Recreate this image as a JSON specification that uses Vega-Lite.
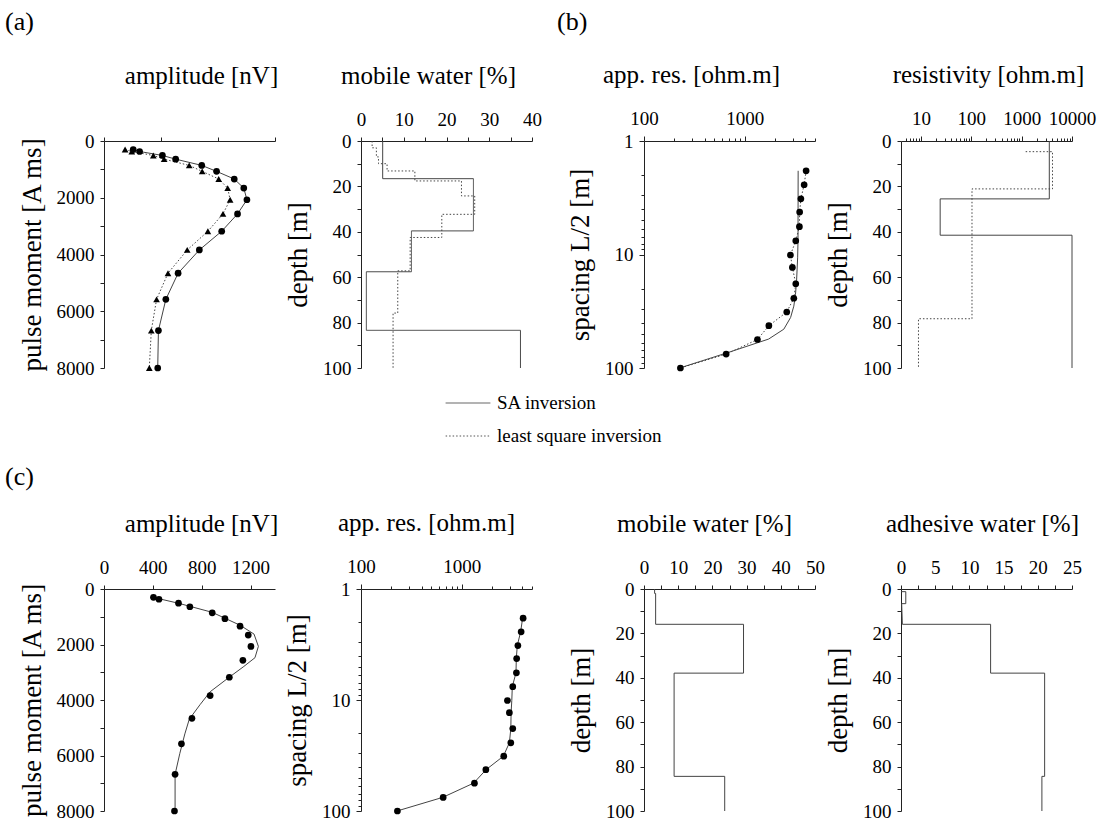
{
  "$schema": "https://vega.github.io/schema/vega-lite/v6.json",
  "background": "white",
  "padding": {"left": 5, "top": 9, "right": 5, "bottom": 5},
  "columns": 8,
  "spacing": {"row": 221, "column": 0},
  "bounds": "flush",
  "config": {
    "view": {"stroke": null},
    "font": "Liberation Serif",
    "axis": {"grid": false, "domainColor": "#222", "tickColor": "#222", "labelFont": "Liberation Serif", "labelFontSize": 19, "labelColor": "#000", "titleFont": "Liberation Serif", "titleFontSize": 27, "titleFontWeight": "normal", "titleColor": "#000", "tickSize": 4, "labelOverlap": false, "labelFlush": false},
    "axisX": {"labelPadding": 8},
    "axisY": {"labelPadding": 6, "titlePadding": 10},
    "title": {"font": "Liberation Serif", "fontSize": 25, "fontWeight": "normal", "color": "#000"}
  },
  "datasets": {
    "amp": [
      {"pm": 300, "obs": 405, "ls": 348}, {"pm": 370, "obs": 450, "ls": 395}, {"pm": 510, "obs": 610, "ls": 546}, {"pm": 640, "obs": 703, "ls": 622},
      {"pm": 860, "obs": 886, "ls": 798}, {"pm": 1070, "obs": 990, "ls": 889}, {"pm": 1340, "obs": 1114, "ls": 1005}, {"pm": 1660, "obs": 1181, "ls": 1068},
      {"pm": 2070, "obs": 1203, "ls": 1085}, {"pm": 2570, "obs": 1137, "ls": 1035}, {"pm": 3180, "obs": 1026, "ls": 929}, {"pm": 3840, "obs": 869, "ls": 784},
      {"pm": 4660, "obs": 720, "ls": 649}, {"pm": 5580, "obs": 634, "ls": 569}, {"pm": 6680, "obs": 582, "ls": 532}, {"pm": 8000, "obs": 577, "ls": 518}
    ],
    "ampfit": [
      {"pm": 300, "amp": 400}, {"pm": 514, "amp": 610}, {"pm": 841, "amp": 886}, {"pm": 1308, "amp": 1115}, {"pm": 1623, "amp": 1228}, {"pm": 2067, "amp": 1264},
      {"pm": 2476, "amp": 1236}, {"pm": 2791, "amp": 1145}, {"pm": 3177, "amp": 1026}, {"pm": 3703, "amp": 869}, {"pm": 4169, "amp": 786}, {"pm": 4695, "amp": 698},
      {"pm": 5221, "amp": 662}, {"pm": 5921, "amp": 621}, {"pm": 6680, "amp": 582}, {"pm": 8000, "amp": 582}
    ],
    "res": [
      {"L": 1.83, "rho": 4080}, {"L": 2.43, "rho": 3900}, {"L": 3.23, "rho": 3620}, {"L": 4.23, "rho": 3520}, {"L": 5.69, "rho": 3500},
      {"L": 7.58, "rho": 3220}, {"L": 10.1, "rho": 2850}, {"L": 13.0, "rho": 2980}, {"L": 18.1, "rho": 3220}, {"L": 24.3, "rho": 3080},
      {"L": 32.1, "rho": 2620}, {"L": 42.4, "rho": 1740}, {"L": 56.1, "rho": 1340}, {"L": 75.4, "rho": 655}, {"L": 100, "rho": 230}
    ],
    "resfit_b": [
      {"L": 1.83, "rho": 3400}, {"L": 7.6, "rho": 3390}, {"L": 10.7, "rho": 3360}, {"L": 17.1, "rho": 3280}, {"L": 22.4, "rho": 3200},
      {"L": 28.5, "rho": 3080}, {"L": 35.9, "rho": 2860}, {"L": 45.5, "rho": 2450}, {"L": 55.6, "rho": 1730}, {"L": 72.9, "rho": 690}, {"L": 100, "rho": 226}
    ],
    "resfit_c": [
      {"L": 1.83, "rho": 4036}, {"L": 2.43, "rho": 3855}, {"L": 3.23, "rho": 3572}, {"L": 4.23, "rho": 3491}, {"L": 5.69, "rho": 3467},
      {"L": 7.58, "rho": 3186}, {"L": 10.1, "rho": 3150}, {"L": 13.0, "rho": 3100}, {"L": 18.1, "rho": 3080}, {"L": 24.3, "rho": 2980},
      {"L": 32.1, "rho": 2594}, {"L": 42.4, "rho": 1750}, {"L": 56.1, "rho": 1315}, {"L": 75.4, "rho": 648}, {"L": 100, "rho": 228}
    ],
    "water_a": [
      {"method": "SA inversion", "i": 0, "depth": 0, "water": 5.07}, {"method": "SA inversion", "i": 1, "depth": 16.6, "water": 5.07},
      {"method": "SA inversion", "i": 2, "depth": 16.6, "water": 26.3}, {"method": "SA inversion", "i": 3, "depth": 39.6, "water": 26.3},
      {"method": "SA inversion", "i": 4, "depth": 39.6, "water": 11.8}, {"method": "SA inversion", "i": 5, "depth": 57.6, "water": 11.8},
      {"method": "SA inversion", "i": 6, "depth": 57.6, "water": 1.25}, {"method": "SA inversion", "i": 7, "depth": 83.4, "water": 1.25},
      {"method": "SA inversion", "i": 8, "depth": 83.4, "water": 37.3}, {"method": "SA inversion", "i": 9, "depth": 100, "water": 37.3},
      {"method": "least square inversion", "i": 0, "depth": 0, "water": 2.6}, {"method": "least square inversion", "i": 1, "depth": 3, "water": 2.6},
      {"method": "least square inversion", "i": 2, "depth": 3, "water": 3.6}, {"method": "least square inversion", "i": 3, "depth": 7, "water": 3.6},
      {"method": "least square inversion", "i": 4, "depth": 7, "water": 4.1}, {"method": "least square inversion", "i": 5, "depth": 10, "water": 4.1},
      {"method": "least square inversion", "i": 6, "depth": 10, "water": 6.1}, {"method": "least square inversion", "i": 7, "depth": 13.2, "water": 6.1},
      {"method": "least square inversion", "i": 8, "depth": 13.2, "water": 12.6}, {"method": "least square inversion", "i": 9, "depth": 17.6, "water": 12.6},
      {"method": "least square inversion", "i": 10, "depth": 17.6, "water": 23.5}, {"method": "least square inversion", "i": 11, "depth": 24.2, "water": 23.5},
      {"method": "least square inversion", "i": 12, "depth": 24.2, "water": 26.6}, {"method": "least square inversion", "i": 13, "depth": 32.3, "water": 26.6},
      {"method": "least square inversion", "i": 14, "depth": 32.3, "water": 18.9}, {"method": "least square inversion", "i": 15, "depth": 42.5, "water": 18.9},
      {"method": "least square inversion", "i": 16, "depth": 42.5, "water": 11.5}, {"method": "least square inversion", "i": 17, "depth": 57.2, "water": 11.5},
      {"method": "least square inversion", "i": 18, "depth": 57.2, "water": 8.6}, {"method": "least square inversion", "i": 19, "depth": 75.8, "water": 8.6},
      {"method": "least square inversion", "i": 20, "depth": 75.8, "water": 7.5}, {"method": "least square inversion", "i": 21, "depth": 100, "water": 7.5}
    ],
    "rho_b": [
      {"method": "SA inversion", "i": 0, "depth": 0, "rho": 3540}, {"method": "SA inversion", "i": 1, "depth": 25.5, "rho": 3540},
      {"method": "SA inversion", "i": 2, "depth": 25.5, "rho": 24}, {"method": "SA inversion", "i": 3, "depth": 41.5, "rho": 24},
      {"method": "SA inversion", "i": 4, "depth": 41.5, "rho": 10000}, {"method": "SA inversion", "i": 5, "depth": 100, "rho": 10000},
      {"method": "least square inversion", "i": 0, "depth": 4.7, "rho": 1200}, {"method": "least square inversion", "i": 1, "depth": 4.7, "rho": 4100},
      {"method": "least square inversion", "i": 2, "depth": 21.1, "rho": 4100}, {"method": "least square inversion", "i": 3, "depth": 21.1, "rho": 103},
      {"method": "least square inversion", "i": 4, "depth": 78.3, "rho": 103}, {"method": "least square inversion", "i": 5, "depth": 78.3, "rho": 8.9},
      {"method": "least square inversion", "i": 6, "depth": 100, "rho": 8.9}
    ],
    "water_c": [
      {"i": 0, "depth": 0, "water": 3.1}, {"i": 1, "depth": 2, "water": 3.1}, {"i": 2, "depth": 2, "water": 3.4}, {"i": 3, "depth": 15.9, "water": 3.4},
      {"i": 4, "depth": 15.9, "water": 29.1}, {"i": 5, "depth": 37.9, "water": 29.1}, {"i": 6, "depth": 37.9, "water": 8.8}, {"i": 7, "depth": 84.4, "water": 8.8},
      {"i": 8, "depth": 84.4, "water": 23.6}, {"i": 9, "depth": 100, "water": 23.6}
    ],
    "adh_c": [
      {"i": 0, "depth": 1.2, "water": 0}, {"i": 1, "depth": 1.2, "water": 0.7}, {"i": 2, "depth": 6.6, "water": 0.7}, {"i": 3, "depth": 6.6, "water": 0.1},
      {"i": 4, "depth": 15.9, "water": 0.2}, {"i": 5, "depth": 15.9, "water": 13.1}, {"i": 6, "depth": 37.9, "water": 13.1}, {"i": 7, "depth": 37.9, "water": 21},
      {"i": 8, "depth": 84.4, "water": 21}, {"i": 9, "depth": 84.4, "water": 20.6}, {"i": 10, "depth": 100, "water": 20.6}
    ]
  },
  "concat": [
    {"width": 99, "height": 227, "title": {"text": "(a)", "anchor": "start", "frame": "group", "fontSize": 26, "baseline": "alphabetic", "offset": 85}, "data": {"values": []}, "mark": {"type": "point", "opacity": 0}},
    {
      "width": 171, "height": 227,
      "title": {"text": "amplitude [nV]", "frame": "group", "dx": 12, "offset": 1, "baseline": "alphabetic"},
      "data": {"name": "amp"},
      "encoding": {"y": {"field": "pm", "type": "quantitative", "scale": {"domain": [0, 8000], "reverse": true, "nice": false, "zero": false},
        "axis": {"orient": "left", "title": "pulse moment [A ms]", "format": "d", "values": [0, 1000, 2000, 3000, 4000, 5000, 6000, 7000, 8000], "labelExpr": "datum.value % 2000 == 0 ? datum.label : ''"}}},
      "layer": [
        {"mark": {"type": "line", "color": "#444", "strokeWidth": 1},
         "encoding": {"x": {"field": "obs", "type": "quantitative", "title": null, "scale": {"domain": [200, 1400], "nice": false, "zero": false},
           "axis": {"orient": "top", "format": "d", "values": [200, 400, 600, 800, 1000, 1200, 1400], "labelExpr": "datum.value % 400 == 0 ? datum.label : ''"}},
           "order": {"field": "pm"}}},
        {"mark": {"type": "line", "color": "#444", "strokeWidth": 1, "strokeDash": [1.5, 2]},
         "encoding": {"x": {"field": "ls", "type": "quantitative", "title": null}, "order": {"field": "pm"}}},
        {"mark": {"type": "point", "shape": "circle", "filled": true, "color": "#000", "opacity": 1, "size": 45},
         "encoding": {"x": {"field": "obs", "type": "quantitative", "title": null}}},
        {"mark": {"type": "point", "shape": "triangle-up", "filled": true, "color": "#000", "opacity": 1, "size": 45},
         "encoding": {"x": {"field": "ls", "type": "quantitative", "title": null}}}
      ]
    },
    {"width": 86, "height": 227, "data": {"values": []}, "mark": {"type": "point", "opacity": 0}},
    {
      "width": 171, "height": 227,
      "title": {"text": "mobile water [%]", "frame": "group", "dx": -18, "offset": 1, "baseline": "alphabetic"},
      "data": {"name": "water_a"},
      "mark": {"type": "line", "color": "#444", "strokeWidth": 1},
      "encoding": {
        "x": {"field": "water", "type": "quantitative", "title": null, "scale": {"domain": [0, 40], "nice": false},
          "axis": {"orient": "top", "format": "d", "values": [0, 5, 10, 15, 20, 25, 30, 35, 40], "labelExpr": "datum.value % 10 == 0 ? datum.label : ''"}},
        "y": {"field": "depth", "type": "quantitative", "scale": {"domain": [0, 100], "reverse": true, "nice": false},
          "axis": {"orient": "left", "title": "depth [m]", "format": "d", "values": [0, 10, 20, 30, 40, 50, 60, 70, 80, 90, 100], "labelExpr": "datum.value % 20 == 0 ? datum.label : ''"}},
        "strokeDash": {"field": "method", "type": "nominal",
          "scale": {"domain": ["SA inversion", "least square inversion"], "range": [[1, 0], [1.5, 2]]},
          "legend": {"orient": "none", "legendX": 440, "legendY": 239, "title": null, "padding": 0, "symbolType": "stroke", "symbolSize": 2000, "symbolStrokeWidth": 1, "symbolStrokeColor": "#555", "labelFont": "Liberation Serif", "labelFontSize": 19, "labelColor": "#000", "labelOffset": 6, "labelLimit": 400, "rowPadding": 0}},
        "order": {"field": "i"}
      }
    },
    {"width": 112, "height": 227, "title": {"text": "(b)", "anchor": "start", "frame": "group", "fontSize": 26, "baseline": "alphabetic", "offset": 85, "dx": 25}, "data": {"values": []}, "mark": {"type": "point", "opacity": 0}},
    {
      "width": 171, "height": 227,
      "title": {"text": "app. res. [ohm.m]", "frame": "group", "dx": -38, "offset": 1, "baseline": "alphabetic"},
      "encoding": {
        "y": {"field": "L", "type": "quantitative", "scale": {"type": "log", "domain": [1, 100], "reverse": true, "nice": false},
          "axis": {"orient": "left", "title": "spacing L/2 [m]", "format": "d", "values": [1, 2, 3, 4, 5, 6, 7, 8, 9, 10, 20, 30, 40, 50, 60, 70, 80, 90, 100], "labelExpr": "datum.value == 1 || datum.value == 10 || datum.value == 100 ? datum.label : ''",
            "tickSize": {"condition": {"test": "datum.value == 1 || datum.value == 10 || datum.value == 100", "value": 5}, "value": 3}}},
        "x": {"field": "rho", "type": "quantitative", "title": null, "scale": {"type": "log", "domain": [100, 5000], "nice": false},
          "axis": {"orient": "top", "format": "d", "values": [100, 200, 300, 400, 500, 600, 700, 800, 900, 1000, 2000, 3000, 4000, 5000], "labelExpr": "datum.value == 100 || datum.value == 1000 ? datum.label : ''",
            "tickSize": {"condition": {"test": "datum.value == 100 || datum.value == 1000", "value": 5}, "value": 3}}}
      },
      "layer": [
        {"data": {"name": "resfit_b"}, "mark": {"type": "line", "color": "#444", "strokeWidth": 1}, "encoding": {"order": {"field": "L"}}},
        {"data": {"name": "res"}, "mark": {"type": "line", "color": "#444", "strokeWidth": 1, "strokeDash": [1.5, 2]}, "encoding": {"order": {"field": "L"}}},
        {"data": {"name": "res"}, "mark": {"type": "point", "shape": "circle", "filled": true, "color": "#000", "opacity": 1, "size": 45}}
      ]
    },
    {"width": 86, "height": 227, "data": {"values": []}, "mark": {"type": "point", "opacity": 0}},
    {
      "width": 171, "height": 227,
      "title": {"text": "resistivity [ohm.m]", "frame": "group", "dx": 2, "offset": 1, "baseline": "alphabetic"},
      "data": {"name": "rho_b"},
      "encoding": {
        "x": {"field": "rho", "type": "quantitative", "title": null, "scale": {"type": "log", "domain": [4, 10000], "nice": false},
          "axis": {"orient": "top", "format": "d", "values": [5, 6, 7, 8, 9, 10, 20, 30, 40, 50, 60, 70, 80, 90, 100, 200, 300, 400, 500, 600, 700, 800, 900, 1000, 2000, 3000, 4000, 5000, 6000, 7000, 8000, 9000, 10000],
            "labelExpr": "datum.value == 10 || datum.value == 100 || datum.value == 1000 || datum.value == 10000 ? datum.label : ''",
            "tickSize": {"condition": {"test": "datum.value == 10 || datum.value == 100 || datum.value == 1000 || datum.value == 10000", "value": 5}, "value": 3}}},
        "y": {"field": "depth", "type": "quantitative", "scale": {"domain": [0, 100], "reverse": true, "nice": false},
          "axis": {"orient": "left", "title": "depth [m]", "format": "d", "values": [0, 10, 20, 30, 40, 50, 60, 70, 80, 90, 100], "labelExpr": "datum.value % 20 == 0 ? datum.label : ''"}},
        "order": {"field": "i"}
      },
      "layer": [
        {"transform": [{"filter": "datum.method == 'SA inversion'"}], "mark": {"type": "line", "color": "#444", "strokeWidth": 1}},
        {"transform": [{"filter": "datum.method == 'least square inversion'"}], "mark": {"type": "line", "color": "#444", "strokeWidth": 1, "strokeDash": [1.5, 2]}}
      ]
    },
    {"width": 99, "height": 222, "title": {"text": "(c)", "anchor": "start", "frame": "group", "fontSize": 26, "baseline": "alphabetic", "offset": 78}, "data": {"values": []}, "mark": {"type": "point", "opacity": 0}},
    {
      "width": 171, "height": 222,
      "title": {"text": "amplitude [nV]", "frame": "group", "dx": 12, "offset": 1, "baseline": "alphabetic"},
      "encoding": {
        "y": {"field": "pm", "type": "quantitative", "scale": {"domain": [0, 8000], "reverse": true, "nice": false, "zero": false},
          "axis": {"orient": "left", "title": "pulse moment [A ms]", "format": "d", "values": [0, 1000, 2000, 3000, 4000, 5000, 6000, 7000, 8000], "labelExpr": "datum.value % 2000 == 0 ? datum.label : ''"}}
      },
      "layer": [
        {"data": {"name": "ampfit"}, "mark": {"type": "line", "color": "#444", "strokeWidth": 1},
         "encoding": {"x": {"field": "amp", "type": "quantitative", "title": null, "scale": {"domain": [0, 1400], "nice": false},
           "axis": {"orient": "top", "format": "d", "values": [0, 200, 400, 600, 800, 1000, 1200, 1400], "labelExpr": "datum.value % 400 == 0 ? datum.label : ''"}},
           "order": {"field": "pm"}}},
        {"data": {"name": "amp"}, "mark": {"type": "point", "shape": "circle", "filled": true, "color": "#000", "opacity": 1, "size": 45},
         "encoding": {"x": {"field": "obs", "type": "quantitative", "title": null}}}
      ]
    },
    {"width": 86, "height": 222, "data": {"values": []}, "mark": {"type": "point", "opacity": 0}},
    {
      "width": 171, "height": 222,
      "title": {"text": "app. res. [ohm.m]", "frame": "group", "dx": -20, "offset": 1, "baseline": "alphabetic"},
      "encoding": {
        "y": {"field": "L", "type": "quantitative", "scale": {"type": "log", "domain": [1, 100], "reverse": true, "nice": false},
          "axis": {"orient": "left", "title": "spacing L/2 [m]", "format": "d", "values": [1, 2, 3, 4, 5, 6, 7, 8, 9, 10, 20, 30, 40, 50, 60, 70, 80, 90, 100], "labelExpr": "datum.value == 1 || datum.value == 10 || datum.value == 100 ? datum.label : ''",
            "tickSize": {"condition": {"test": "datum.value == 1 || datum.value == 10 || datum.value == 100", "value": 5}, "value": 3}}},
        "x": {"field": "rho", "type": "quantitative", "title": null, "scale": {"type": "log", "domain": [100, 5000], "nice": false},
          "axis": {"orient": "top", "format": "d", "values": [100, 200, 300, 400, 500, 600, 700, 800, 900, 1000, 2000, 3000, 4000, 5000], "labelExpr": "datum.value == 100 || datum.value == 1000 ? datum.label : ''",
            "tickSize": {"condition": {"test": "datum.value == 100 || datum.value == 1000", "value": 5}, "value": 3}}}
      },
      "layer": [
        {"data": {"name": "resfit_c"}, "mark": {"type": "line", "color": "#444", "strokeWidth": 1}, "encoding": {"order": {"field": "L"}}},
        {"data": {"name": "res"}, "mark": {"type": "point", "shape": "circle", "filled": true, "color": "#000", "opacity": 1, "size": 45}}
      ]
    },
    {"width": 112, "height": 222, "data": {"values": []}, "mark": {"type": "point", "opacity": 0}},
    {
      "width": 171, "height": 222,
      "title": {"text": "mobile water [%]", "frame": "group", "dx": -25, "offset": 1, "baseline": "alphabetic"},
      "data": {"name": "water_c"},
      "mark": {"type": "line", "color": "#444", "strokeWidth": 1},
      "encoding": {
        "x": {"field": "water", "type": "quantitative", "title": null, "scale": {"domain": [0, 50], "nice": false},
          "axis": {"orient": "top", "format": "d", "values": [0, 5, 10, 15, 20, 25, 30, 35, 40, 45, 50], "labelExpr": "datum.value % 10 == 0 ? datum.label : ''"}},
        "y": {"field": "depth", "type": "quantitative", "scale": {"domain": [0, 100], "reverse": true, "nice": false},
          "axis": {"orient": "left", "title": "depth [m]", "format": "d", "values": [0, 10, 20, 30, 40, 50, 60, 70, 80, 90, 100], "labelExpr": "datum.value % 20 == 0 ? datum.label : ''"}},
        "order": {"field": "i"}
      }
    },
    {"width": 86, "height": 222, "data": {"values": []}, "mark": {"type": "point", "opacity": 0}},
    {
      "width": 171, "height": 222,
      "title": {"text": "adhesive water [%]", "frame": "group", "dx": -4, "offset": 1, "baseline": "alphabetic"},
      "data": {"name": "adh_c"},
      "mark": {"type": "line", "color": "#444", "strokeWidth": 1},
      "encoding": {
        "x": {"field": "water", "type": "quantitative", "title": null, "scale": {"domain": [0, 25], "nice": false},
          "axis": {"orient": "top", "format": "d", "values": [0, 2.5, 5, 7.5, 10, 12.5, 15, 17.5, 20, 22.5, 25], "labelExpr": "datum.value % 5 == 0 ? datum.label : ''"}},
        "y": {"field": "depth", "type": "quantitative", "scale": {"domain": [0, 100], "reverse": true, "nice": false},
          "axis": {"orient": "left", "title": "depth [m]", "format": "d", "values": [0, 10, 20, 30, 40, 50, 60, 70, 80, 90, 100], "labelExpr": "datum.value % 20 == 0 ? datum.label : ''"}},
        "order": {"field": "i"}
      }
    }
  ]
}
